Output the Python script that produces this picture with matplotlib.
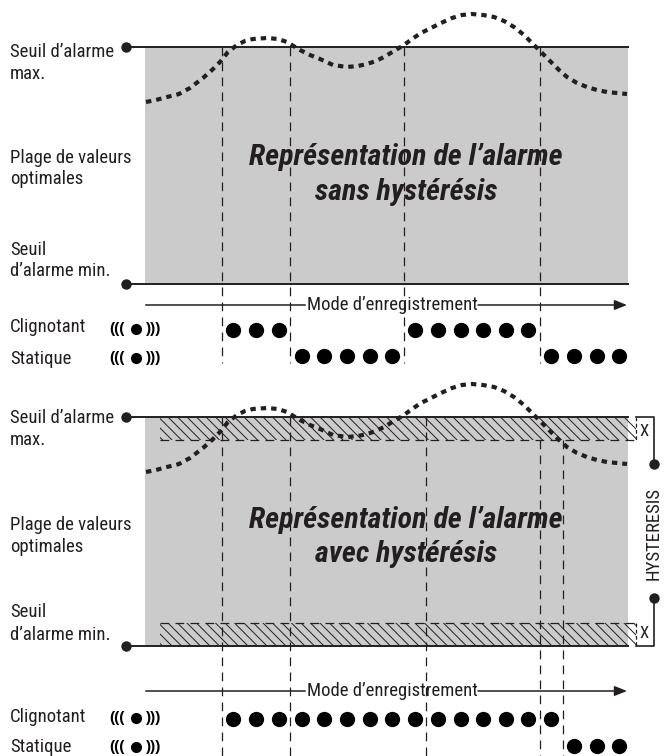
import matplotlib
matplotlib.use("Agg")
import matplotlib.pyplot as plt
from matplotlib.patches import Polygon, Rectangle

plt.rcParams['font.family'] = ['Roboto Condensed', 'Roboto', 'DejaVu Sans']

curve_x = [146, 156, 167, 179, 190, 203, 212, 220, 228, 237, 245, 253, 267, 278, 287, 300, 310, 320,
           333, 347, 358, 367, 376, 384, 394, 404, 412, 421, 431, 441, 452, 462, 472, 483, 494, 504,
           514, 524, 534, 542, 551, 559, 567, 577, 587, 597, 607, 617, 627]
curve_y = [102, 100, 97, 94, 88, 78, 70, 62, 52, 45, 41, 39, 38, 39, 42, 50, 55, 59,
           65, 67, 66, 64, 61, 57, 51, 45, 39, 33, 28, 23, 18, 15, 14, 15, 17, 21,
           27, 35, 45, 53, 62, 70, 77, 83, 87, 90, 92, 93, 94]
offset_bas = 370

vlines_haut = [222, 290, 404, 540]
vlines_bas = [222, 290, 426, 540, 563]
vlines_bas_start = [417, 417, 417, 440, 440]

clig_haut = [233, 256, 279, 415, 438, 461, 483, 506, 528]
stat_haut = [302, 324, 347, 370, 392, 551, 574, 597, 619]
clig_bas = [233, 256, 279, 302, 324, 347, 370, 392, 415, 438, 461, 483, 506, 528, 551]
stat_bas = [574, 597, 619]

labels_haut = [("Seuil d’alarme", 57), ("max.", 79), ("Plage de valeurs", 163), ("optimales", 184),
               ("Seuil", 255), ("d’alarme min.", 276), ("Clignotant", 332), ("Statique", 364)]
labels_bas = [("Seuil d’alarme", 423), ("max.", 445), ("Plage de valeurs", 530), ("optimales", 552),
              ("Seuil", 617), ("d’alarme min.", 640), ("Clignotant", 722), ("Statique", 752)]

DARK = "#231f20"
GREY = "#cbcbcb"

fig = plt.figure(figsize=(6.68, 7.56), dpi=100)
ax = fig.add_axes([0, 0, 1, 1])
ax.set_xlim(0, 668)
ax.set_ylim(756, 0)
ax.axis('off')


def icon(y):
    ax.text(116.5, y, "(((", fontsize=11, fontweight='bold', family='Liberation Sans', color='k', ha='center', va='center')
    ax.text(153.5, y, ")))", fontsize=11, fontweight='bold', family='Liberation Sans', color='k', ha='center', va='center')
    ax.plot([135.5], [y], 'o', ms=8, color='k', mew=0)


def hatch_band(pts, y0, y1):
    clip = Polygon(pts, closed=True, fc='none', ec='none', zorder=2)
    ax.add_patch(clip)
    h = y1 - y0
    x0 = 130
    while x0 < 640:
        ln, = ax.plot([x0, x0 + h], [y0, y1], color=DARK, lw=0.7, zorder=2)
        ln.set_clip_path(clip)
        x0 += 9.5


def panel(top, bottom, shift, vlines, starts, vend, clig, stat, y_clig, y_stat, y_arrow, labels, title, ty1, ty2, icons):
    ax.add_patch(Rectangle((145, top), 483, bottom - top, fc=GREY, ec='none', zorder=1))
    for x, s in zip(vlines, starts):
        ax.plot([x, x], [s, vend], color=DARK, lw=0.9, ls=(0, (7, 5)), zorder=4)
    ax.plot([126, 628], [top, top], color=DARK, lw=1.4, zorder=5)
    ax.plot([126, 628], [bottom, bottom], color=DARK, lw=1.4, zorder=5)
    ax.plot([126, 126], [top, bottom], 'o', ms=7.5, color=DARK, mew=0, zorder=6)
    ax.plot(curve_x, [y + shift for y in curve_y], color=DARK, lw=3.0, ls=(0, (1.3, 1.2)), zorder=7)
    ax.text(406, ty1, "Représentation de l’alarme", fontsize=21.6, fontweight='bold', fontstyle='italic',
            color=DARK, ha='center', va='baseline', zorder=3)
    ax.text(406, ty2, title, fontsize=21.6, fontweight='bold', fontstyle='italic',
            color=DARK, ha='center', va='baseline', zorder=3)
    # fleche du mode d'enregistrement
    ax.plot([146, 305], [y_arrow, y_arrow], color=DARK, lw=1.1, zorder=3)
    ax.annotate("", xy=(627, y_arrow), xytext=(478, y_arrow), zorder=3,
                arrowprops=dict(arrowstyle='-|>,head_length=0.75,head_width=0.3', color=DARK, lw=1.1,
                                shrinkA=0, shrinkB=0))
    ax.text(392, y_arrow + 5, "Mode d’enregistrement", fontsize=13.5, color=DARK, ha='center', va='baseline', zorder=5)
    ax.plot(clig, [y_clig] * len(clig), 'o', ms=11, color='k', mew=0, zorder=6)
    ax.plot(stat, [y_stat] * len(stat), 'o', ms=11, color='k', mew=0, zorder=6)
    for txt, y in labels:
        ax.text(10, y, txt, fontsize=13.5, color=DARK, ha='left', va='baseline')
    for y in icons:
        icon(y)


panel(47, 284, 0, vlines_haut, [47] * 4, 363, clig_haut, stat_haut, 330, 356, 305, labels_haut,
      "sans hystérésis", 165, 200, [329, 358])
panel(417, 646, offset_bas, vlines_bas, vlines_bas_start, 756, clig_bas, stat_bas, 719, 746, 691, labels_bas,
      "avec hystérésis", 528, 562, [718, 747])

# bandes hachurees
hatch_band([(160, 417), (628, 417), (636, 426), (636, 440), (160, 440)], 417, 440)
hatch_band([(160, 623), (636, 623), (636, 646), (628, 646), (160, 646)], 623, 646)
ax.plot([160, 636], [440, 440], color=DARK, lw=0.9, ls=(0, (7, 5)), zorder=3)
ax.plot([160, 636], [623, 623], color=DARK, lw=0.9, ls=(0, (7, 5)), zorder=3)
ax.plot([636, 636], [417, 440], color=DARK, lw=0.9, ls=(0, (3, 2)), zorder=3)
ax.plot([636, 636], [623, 646], color=DARK, lw=0.9, ls=(0, (3, 2)), zorder=3)

# accolades hysteresis
ax.plot([636, 654, 654], [417, 417, 464], color=DARK, lw=1.2)
ax.plot([636, 654, 654], [646, 646, 598], color=DARK, lw=1.2)
ax.plot([654, 654], [464, 598], 'o', ms=7.5, color=DARK, mew=0)
ax.text(644.5, 431, "X", fontsize=12, color=DARK, ha='center', va='center')
ax.text(644.5, 634, "X", fontsize=12, color=DARK, ha='center', va='center')
ax.text(654, 534, "HYSTERESIS", fontsize=13.5, color=DARK, rotation=90, ha='center', va='center')

fig.savefig("out.png", dpi=100)
